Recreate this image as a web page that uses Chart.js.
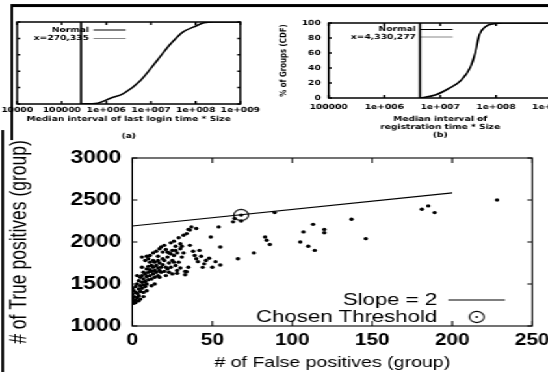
<!DOCTYPE html>
<html>
<head>
<meta charset="utf-8">
<script src="https://cdn.jsdelivr.net/npm/chart.js@4.4.0/dist/chart.umd.min.js"></script>
<style>
  html, body { margin: 0; padding: 0; background: #fff; width: 548px; height: 372px; overflow: hidden; }
  /* the source figure is stretched horizontally, so the whole stage is too */
  #stage { position: absolute; left: 0; top: 0; width: 421.5px; height: 372px; transform: scaleX(1.3); transform-origin: 0 0; }
  .box { position: absolute; }
  .rule { position: absolute; background: #000; }
</style>
</head>
<body>
<div id="stage">
  <div class="rule" style="left:9.2px; top:4px; width:420px; height:2.5px"></div>
  <div class="rule" style="left:8.4px; top:4px; width:2px; height:136px"></div>
  <div class="rule" style="left:0.6px; top:130px; width:2px; height:242px"></div>
  <div class="box" style="left:0; top:0; width:207.7px; height:145px"><canvas id="loginChart"></canvas></div>
  <div class="box" style="left:207.7px; top:0; width:226.9px; height:140px"><canvas id="regChart"></canvas></div>
  <div class="box" style="left:0; top:140px; width:421.5px; height:232px"><canvas id="mainChart"></canvas></div>
</div>
<script>
// (a) median interval of last login time * size
const loginValues = [270335, 631000, 1230000, 2450000, 5890000, 14100000, 28200000, 52500000, 91200000, 155000000, 257000000, 1000000000];
const loginCdf    = [0, 1, 7, 13, 29, 54, 74, 88, 94, 99, 100, 100];
const loginThreshold = 270335;

// (b) median interval of registration time * size
const regValues = [4330277, 8130000, 14500000, 24000000, 34700000, 42700000, 50100000, 64600000, 93300000, 138000000, 1000000000];
const regCdf    = [0, 4, 13, 24, 41, 61, 84, 95, 99, 100, 100];
const regThreshold = 4330277;

const loginTicks = [1e4, 1e5, 1e6, 1e7, 1e8, 1e9];
const loginTickLabels = ['10000', '100000', '1e+006', '1e+007', '1e+008', '1e+009'];
const regTicks = [1e5, 1e6, 1e7, 1e8, 1e9];
const regTickLabels = ['100000', '1e+006', '1e+007', '1e+008', '1e+009'];
const cdfTicks = [0, 20, 40, 60, 80, 100];

// main scatter: one point per parameter setting
const falsePositives = [0, 0, 0, 0, 1, 1, 1, 1, 2, 2, 2, 2, 3, 3, 3, 3, 4, 4, 4, 4, 5, 5, 5, 5, 6, 6, 6, 6, 6, 7, 7, 7, 7, 7, 8, 8, 8, 8, 9, 9, 9, 9, 9,
  10, 10, 10, 10, 11, 11, 11, 11, 12, 12, 12, 12, 13, 13, 13, 13, 14, 14, 14, 14, 15, 15, 15, 16, 16, 16, 16, 17, 17, 17, 17, 18, 18, 18, 19, 19, 19,
  20, 20, 20, 21, 21, 21, 22, 22, 22, 23, 23, 23, 24, 24, 24, 25, 25, 25, 26, 26, 26, 27, 27, 27, 28, 28, 28, 29, 29, 30, 30, 30, 31, 31, 32, 32, 33, 33, 34, 34,
  35, 35, 36, 36, 37, 38, 39, 40, 40, 41, 42, 43, 44, 45, 46, 48, 49, 50, 52, 54, 55, 55, 63, 64, 66, 68, 68, 76, 83, 84, 86, 89,
  105, 107, 110, 113, 114, 120, 120, 137, 146, 181, 185, 189, 228];
const truePositives = [1290, 1330, 1380, 1450, 1270, 1300, 1350, 1420, 1280, 1310, 1400, 1470, 1340, 1390, 1500, 1600, 1300, 1360, 1440, 1540, 1320, 1410, 1480, 1580, 1450, 1520, 1600, 1700, 1820, 1350, 1400, 1490, 1560, 1640, 1470, 1530, 1620, 1780, 1420, 1500, 1590, 1680, 1830,
  1550, 1640, 1710, 1800, 1600, 1670, 1760, 1840, 1480, 1560, 1650, 1720, 1620, 1700, 1780, 1870, 1500, 1580, 1660, 1760, 1640, 1720, 1890, 1600, 1690, 1780, 1830, 1580, 1660, 1750, 1920, 1640, 1700, 1940, 1730, 1800, 1880,
  1650, 1780, 1960, 1600, 1700, 1910, 1680, 1820, 1880, 1640, 1750, 1870, 1700, 1860, 1990, 1620, 1780, 1900, 1760, 1840, 2010, 1720, 1900, 1950, 1660, 1870, 1627, 1760, 2050, 1690, 1920, 1980, 1820, 1950, 1870, 2080, 1610, 1650, 1646, 2100,
  1700, 2150, 1960, 2143, 2180, 1890, 1840, 2160, 1800, 1766, 1900, 1830, 1698, 1740, 1780, 1806, 2060, 1700, 1766, 2180, 1940, 1726, 2240, 2280, 1800, 2250, 2320, 1870, 2060, 2020, 1970, 2350,
  2000, 2120, 1950, 2210, 1900, 2150, 2110, 2270, 2040, 2390, 2430, 2350, 2500];
const slopeX = [0, 200];
const slopeY = [2190, 2585];
const chosenFP = 68;
const chosenTP = 2320;
const fpTicks = [0, 50, 100, 150, 200, 250];
const tpTicks = [1000, 1500, 2000, 2500, 3000];

Chart.defaults.font.family = "'Liberation Sans', Arial, sans-serif";
Chart.defaults.color = '#000';
Chart.defaults.animation = false;

// gnuplot style box with inward ticks on all four sides
const gnuFrame = {
  id: 'gnuFrame',
  afterDatasetsDraw(chart, args, opts) {
    const { ctx, chartArea: a, scales: { x, y } } = chart;
    const len = opts.tick || 4;
    ctx.save();
    ctx.strokeStyle = opts.color || '#000';
    ctx.lineWidth = opts.width || 1;
    ctx.strokeRect(a.left, a.top, a.right - a.left, a.bottom - a.top);
    ctx.beginPath();
    x.ticks.forEach(t => {
      const px = x.getPixelForValue(t.value);
      ctx.moveTo(px, a.bottom); ctx.lineTo(px, a.bottom - len);
      ctx.moveTo(px, a.top); ctx.lineTo(px, a.top + len);
    });
    y.ticks.forEach(t => {
      const py = y.getPixelForValue(t.value);
      ctx.moveTo(a.left, py); ctx.lineTo(a.left + len / 1.3, py);
      ctx.moveTo(a.right, py); ctx.lineTo(a.right - len / 1.3, py);
    });
    ctx.stroke();
    ctx.restore();
  }
};

// put the legend block where the figure has its key
const legendSpot = {
  id: 'legendSpot',
  afterLayout(chart, args, opts) {
    const lg = chart.legend;
    if (!lg || opts.right === undefined) return;
    lg.right = opts.right; lg.width = 300; lg.left = opts.right - 300;
    lg.top = opts.top; lg.height = 100; lg.bottom = opts.top + 100;
  }
};

const fixed = (size) => (scale) => {
  if (scale.isHorizontal()) scale.height = size; else scale.width = size;
  scale.paddingLeft = 0; scale.paddingRight = 0; scale.paddingTop = 0; scale.paddingBottom = 0;
};

const keyItems = (chart) => chart.data.datasets
  .map((ds, i) => ({
    text: ds.label || '',
    strokeStyle: ds.keyColor || '#000',
    fillStyle: 'rgba(0,0,0,0)',
    lineWidth: ds.keyWidth || 1,
    pointStyle: ds.keyStyle || 'line',
    hidden: false,
    datasetIndex: i,
    fontColor: '#000'
  }))
  .filter(it => it.text);

const noGrid = { display: false, drawTicks: false };
const smallFont = { family: "'DejaVu Sans', sans-serif", size: 7, weight: 'bold' };

function cdfChart(id, values, cdf, threshold, thresholdLabel, ticks, tickLabels, o) {
  return new Chart(document.getElementById(id), {
    type: 'line',
    data: {
      datasets: [
        {
          label: 'Normal',
          data: values.map((v, i) => ({ x: v, y: cdf[i] })),
          borderColor: '#000', borderWidth: 1.6, pointRadius: 0,
          cubicInterpolationMode: 'monotone', keyWidth: 1.2
        },
        {
          label: thresholdLabel,
          data: [{ x: threshold, y: 0 }, { x: threshold, y: 100 }],
          borderColor: '#000', borderWidth: 1.6, pointRadius: 0,
          keyColor: '#888', keyWidth: 1
        }
      ]
    },
    options: {
      responsive: true,
      maintainAspectRatio: false,
      layout: { padding: { top: o.top, right: o.right, left: 0, bottom: 0 } },
      plugins: {
        legend: {
          position: 'chartArea', align: 'start', rtl: true,
          labels: { usePointStyle: true, pointStyleWidth: 24.6, padding: o.keyPad, font: smallFont, generateLabels: keyItems }
        },
        legendSpot: { right: o.keyRight, top: o.keyTop },
        gnuFrame: { width: 1.5, tick: 3 },
        tooltip: { enabled: false }
      },
      scales: {
        x: {
          type: 'logarithmic', min: ticks[0], max: ticks[ticks.length - 1],
          afterBuildTicks: (s) => { s.ticks = ticks.map(v => ({ value: v })); },
          afterFit: fixed(o.xHeight),
          grid: noGrid, border: { display: false },
          ticks: { font: smallFont, padding: o.xPad, maxRotation: 0, autoSkip: false,
            callback: (v) => tickLabels[ticks.indexOf(v)] },
          title: { display: true, text: o.title, font: Object.assign({}, smallFont, { lineHeight: o.titleLine }), padding: { top: 0, bottom: o.titlePad } }
        },
        y: {
          min: 0, max: 100,
          afterBuildTicks: (s) => { s.ticks = cdfTicks.map(v => ({ value: v })); },
          afterFit: fixed(o.yWidth),
          grid: noGrid, border: { display: false },
          ticks: { display: o.yLabels, font: smallFont, padding: 6 },
          title: { display: o.yLabels, text: '% of Groups (CDF)', font: smallFont, padding: { top: 5.5, bottom: 0 } }
        }
      }
    },
    plugins: [gnuFrame, legendSpot]
  });
}

cdfChart('loginChart', loginValues, loginCdf, loginThreshold, 'x=270,335', loginTicks, loginTickLabels, {
  top: 22, right: 23.8, xHeight: 41, yWidth: 13.1, xPad: 1.8, yLabels: false,
  title: ['Median interval of last login time * Size', '(a)'], titleLine: '17px', titlePad: 0.5,
  keyRight: 97.7, keyTop: 25, keyPad: 1.5
});

cdfChart('regChart', regValues, regCdf, regThreshold, 'x=4,330,277', regTicks, regTickLabels, {
  top: 23, right: 11.5, xHeight: 42, yWidth: 44.6, xPad: 4.8, yLabels: true,
  title: ['Median interval of', 'registration time * Size', '(b)'], titleLine: '7.8px', titlePad: 1.1,
  keyRight: 140, keyTop: 25.5, keyPad: 0.5
});

// ring marker used for the chosen threshold
const ring = document.createElement('canvas');
ring.width = 14; ring.height = 14;
const rc = ring.getContext('2d');
rc.lineWidth = 1.1;
rc.beginPath(); rc.arc(7, 7, 5.6, 0, Math.PI * 2); rc.stroke();
rc.beginPath(); rc.arc(7, 7, 1.1, 0, Math.PI * 2); rc.fill();

const tickFont = (size) => ({ size: size, weight: 'bold' });

new Chart(document.getElementById('mainChart'), {
  type: 'scatter',
  data: {
    datasets: [
      {
        label: 'Slope = 2',
        data: slopeX.map((v, i) => ({ x: v, y: slopeY[i] })),
        showLine: true, borderColor: '#000', borderWidth: 1.1, pointRadius: 0, keyWidth: 1.1
      },
      {
        label: 'Chosen Threshold',
        data: [{ x: chosenFP, y: chosenTP }],
        pointStyle: ring, keyStyle: ring
      },
      {
        data: falsePositives.map((v, i) => ({ x: v, y: truePositives[i] })),
        pointRadius: 1.7, backgroundColor: '#000', borderWidth: 0
      }
    ]
  },
  options: {
    responsive: true,
    maintainAspectRatio: false,
    layout: { padding: { top: 18, right: 13.1, left: 0, bottom: 0 } },
    plugins: {
      legend: {
        position: 'chartArea', align: 'start', rtl: true,
        labels: { usePointStyle: true, pointStyleWidth: 43.8, padding: 0, font: { size: 17 }, generateLabels: keyItems }
      },
      legendSpot: { right: 387.7, top: 151.5 },
      gnuFrame: { width: 1.1, tick: 5 },
      tooltip: { enabled: false }
    },
    scales: {
      x: {
        type: 'linear', min: 0, max: 250,
        afterBuildTicks: (s) => { s.ticks = fpTicks.map(v => ({ value: v })); },
        afterFit: fixed(46),
        grid: noGrid, border: { display: false },
        ticks: { font: tickFont(16), padding: 5.4, maxRotation: 0, callback: (v) => String(v) },
        title: { display: true, text: '# of False positives (group)', font: { size: 15 }, padding: { top: 0, bottom: 0 } }
      },
      y: {
        min: 1000, max: 3000,
        afterBuildTicks: (s) => { s.ticks = tpTicks.map(v => ({ value: v })); },
        afterFit: fixed(101.5),
        grid: noGrid, border: { display: false },
        ticks: { font: tickFont(17.5), padding: 8.5, callback: (v) => String(v) },
        title: { display: true, text: '# of True positives (group)', font: { size: 17.5 }, padding: { top: 4.9, bottom: 0 } }
      }
    }
  },
  plugins: [gnuFrame, legendSpot]
});
</script>
</body>
</html>
